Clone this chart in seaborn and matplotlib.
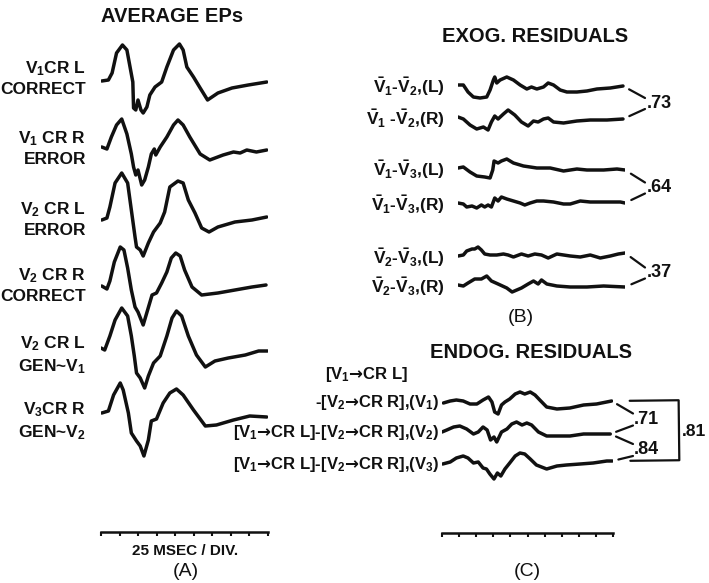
import numpy as np
import pandas as pd
import seaborn as sns
import matplotlib.pyplot as plt

# ---------------- data (time in ms, amplitude in plot units, up = positive) ----------------
# (A) average EPs
a1_t = [1, 10, 15, 21, 29, 35, 40, 43, 44, 47, 50, 54, 57, 62, 66, 73, 82, 89, 98, 106, 111, 116, 125, 134, 144, 158, 177, 199, 224]
a1_v = [0, 1, 8, 28, 36, 31, 11, -1, -27, -29, -19, -29, -32, -26, -14, -6, -1, 14, 31, 37, 31, 14, 4, -7, -19, -12, -7, -4, -1]
a2_t = [1, 8, 14, 21, 28, 35, 41, 44, 47, 50, 55, 59, 64, 68, 72, 74, 80, 89, 98, 104, 111, 120, 134, 147, 165, 179, 188, 197, 210, 224]
a2_v = [0, -2, 10, 22, 28, 13, -7, -20, -28, -23, -38, -33, -20, -7, -2, -8, 0, 10, 22, 27, 22, 10, -7, -13, -8, -5, -6, -3, -5, -3]
a3_t = [1, 8, 12, 19, 28, 36, 41, 46, 48, 53, 57, 64, 71, 80, 86, 93, 104, 111, 118, 127, 136, 146, 158, 181, 204, 224]
a3_v = [0, 2, 13, 37, 47, 37, 10, -17, -27, -30, -36, -23, -12, -3, 8, 33, 39, 37, 20, 7, -8, -12, -7, -2, 0, 3]
a4_t = [1, 8, 12, 18, 26, 31, 36, 41, 46, 50, 57, 63, 69, 75, 82, 89, 95, 101, 107, 113, 123, 136, 158, 181, 204, 223]
a4_v = [0, -3, 5, 24, 39, 36, 18, -4, -21, -26, -39, -24, -9, -7, 3, 14, 28, 33, 30, 16, -1, -9, -7, -4, -1, 1]
a5_t = [0, 5, 12, 19, 28, 36, 41, 45, 48, 53, 59, 64, 71, 80, 89, 96, 102, 109, 118, 129, 141, 154, 172, 195, 213, 225]
a5_v = [0, -2, 12, 28, 40, 32, 12, -8, -25, -30, -40, -28, -15, -8, 12, 30, 37, 32, 12, -7, -19, -13, -10, -7, -3, -3]
a6_t = [1, 10, 17, 26, 30, 37, 41, 48, 53, 58, 64, 68, 75, 84, 93, 102, 111, 125, 141, 156, 179, 201, 224]
a6_v = [0, 2, 18, 30, 23, 0, -20, -28, -33, -43, -27, -8, -6, 10, 20, 24, 18, 3, -13, -12, -7, -3, -4]
a_labels = ["V$_1$CR L\nCORRECT", "V$_1$ CR R\nERROR", "V$_2$ CR L\nERROR",
            "V$_2$ CR R\nCORRECT", "V$_2$ CR L\nGEN~V$_1$", "V$_3$CR R\nGEN~V$_2$"]

# (B) exogenous residuals
b1_t = [0, 8, 15, 23, 33, 43, 48, 53, 55, 58, 63, 73, 83, 93, 103, 110, 118, 128, 135, 143, 153, 163, 178, 193, 208, 228, 247]
b1_v = [0, 0, -7, -12, -13, -12, -5, 5, 8, 2, 5, 8, 5, 0, -4, -2, -4, -2, 2, 0, -5, -7, -7, -6, -4, -3, -1]
b2_t = [0, 8, 18, 28, 38, 45, 50, 55, 60, 68, 75, 85, 95, 105, 113, 120, 128, 135, 143, 158, 178, 198, 223, 247]
b2_v = [0, -2, -8, -12, -10, -13, -5, 1, -2, 3, 7, 2, -5, -9, -4, -5, -2, -1, -5, -6, -4, -3, -3, -2]
b3_t = [0, 8, 18, 28, 40, 48, 52, 54, 60, 65, 73, 83, 98, 118, 138, 158, 178, 193, 218, 238, 250]
b3_v = [0, 1, -4, -8, -9, -10, -2, 7, 5, 7, 9, 5, 2, 0, 0, -3, -1, -2, -2, -1, -2]
b4_t = [0, 8, 13, 21, 28, 35, 40, 45, 50, 55, 60, 65, 73, 83, 93, 100, 108, 118, 128, 143, 158, 168, 183, 198, 218, 243, 250]
b4_v = [0, -1, -4, -3, -5, -2, -4, -2, -4, 5, 2, 6, 4, 2, 0, -2, 0, 2, 2, 1, -1, -1, 2, 1, 1, 1, 0]
b5_t = [0, 8, 13, 21, 25, 30, 35, 40, 48, 58, 68, 75, 83, 95, 105, 115, 125, 135, 148, 158, 168, 183, 198, 213, 228, 240, 250]
b5_v = [0, 1, 5, 7, 7, 9, 6, 2, 1, 1, 2, 1, -1, 2, 0, 2, 1, -2, 2, 1, 0, -1, 1, -2, 0, 2, 3]
b6_t = [0, 8, 15, 25, 35, 43, 50, 60, 73, 81, 95, 105, 113, 120, 125, 133, 148, 168, 193, 218, 250]
b6_v = [0, -1, 2, 6, 6, 9, 4, 1, -3, -7, -3, 1, 4, 1, 5, 1, -1, -2, -2, -1, -2]
b_labels = [r"$\bar{V}_1$-$\bar{V}_2$,(L)", r"$\bar{V}_1$ -$\bar{V}_2$,(R)",
            r"$\bar{V}_1$-$\bar{V}_3$,(L)", r"$\bar{V}_1$-$\bar{V}_3$,(R)",
            r"$\bar{V}_2$-$\bar{V}_3$,(L)", r"$\bar{V}_2$-$\bar{V}_3$,(R)"]
b_corr = [".73", ".64", ".37"]

# (C) endogenous residuals
c1_t = [2, 12, 21, 31, 41, 51, 60, 68, 73, 77, 82, 87, 92, 99, 107, 114, 121, 129, 136, 143, 153, 168, 187, 207, 226, 248]
c1_v = [0, 2, 3, 2, -1, -1, 3, 6, 1, -9, -11, -2, 1, 4, 9, 11, 9, 11, 8, 3, -4, -6, -5, -2, -1, 2]
c2_t = [0, 7, 17, 26, 36, 46, 53, 60, 66, 71, 76, 80, 87, 95, 102, 109, 117, 124, 131, 141, 153, 168, 187, 207, 226, 246]
c2_v = [0, 2, 5, 6, 3, -2, 0, 5, 2, -8, -5, -10, 0, 3, 8, 10, 7, 9, 7, 0, -4, -4, -4, -2, -2, -2]
c3_t = [1, 12, 21, 31, 38, 46, 53, 60, 65, 70, 76, 81, 86, 92, 99, 107, 114, 121, 129, 138, 153, 168, 182, 202, 221, 241, 249]
c3_v = [0, 2, 6, 8, 6, 1, 2, -4, -5, -10, -15, -9, -12, -5, 1, 8, 11, 10, 5, -1, -5, -2, -1, 0, 1, 3, 3]
c_head = "[V$_1\\mathsf{\u2192}$CR L]"
c_labels = ["-[V$_2\\mathsf{\u2192}$CR R],(V$_1$)",
            "[V$_1\\mathsf{\u2192}$CR L]-[V$_2\\mathsf{\u2192}$CR R],(V$_2$)",
            "[V$_1\\mathsf{\u2192}$CR L]-[V$_2\\mathsf{\u2192}$CR R],(V$_3$)"]
c_corr = [".71", ".84"]
c_corr_all = ".81"

# ---------------- layout (pixel rows of the 709 x 583 canvas) ----------------
W, H = 709, 583
a_base = [81, 147, 220, 286, 348, 413]
a_label_y = [78, 148, 219, 285, 355, 421]
b_base = [85, 117, 168, 203, 256, 285]
c_base = [403, 432, 464]

sns.set_style("white")
plt.rcParams["font.family"] = ["Liberation Sans", "DejaVu Sans"]
plt.rcParams["font.weight"] = "bold"
plt.rcParams["mathtext.fontset"] = "custom"
plt.rcParams["mathtext.rm"] = "Liberation Sans:bold"
plt.rcParams["mathtext.it"] = "Liberation Sans:bold"
plt.rcParams["mathtext.bf"] = "Liberation Sans:bold"
plt.rcParams["mathtext.sf"] = "DejaVu Sans:bold"
plt.rcParams["mathtext.default"] = "rm"
INK = "#111111"

fig = plt.figure(figsize=(W / 100, H / 100), dpi=100)


def px_box(left, top, right, bottom):
    return [left / W, 1 - bottom / H, (right - left) / W, (bottom - top) / H]


def traces(times, values, bases):
    parts = [pd.DataFrame({"t": t, "y": b - np.asarray(v, float), "trace": k})
             for k, (t, v, b) in enumerate(zip(times, values, bases))]
    return pd.concat(parts, ignore_index=True)


def draw(ax, df, tmax, top, bottom, scale_bar):
    sns.lineplot(data=df, x="t", y="y", units="trace", estimator=None, sort=False,
                 color=INK, lw=2.5, solid_capstyle="round", solid_joinstyle="round", ax=ax)
    ax.set_xlim(0, tmax)
    ax.set_ylim(bottom, top)
    ax.set_xlabel("")
    ax.set_ylabel("")
    ax.set_facecolor("none")
    ax.set_yticks([])
    for side in ["top", "left", "right"]:
        ax.spines[side].set_visible(False)
    if scale_bar:
        ax.spines["bottom"].set_linewidth(1.8)
        ax.spines["bottom"].set_color(INK)
        ax.set_xticks(np.arange(0, tmax + 1, 25))
        ax.tick_params(axis="x", bottom=True, direction="out", length=3, width=1.5,
                       color=INK, labelbottom=False)
    else:
        ax.axis("off")


ov = fig.add_axes([0, 0, 1, 1])
ov.set_xlim(0, W)
ov.set_ylim(H, 0)
ov.axis("off")

ax_a = fig.add_axes(px_box(101, 0, 267.5, 532))
draw(ax_a, traces([a1_t, a2_t, a3_t, a4_t, a5_t, a6_t], [a1_v, a2_v, a3_v, a4_v, a5_v, a6_v], a_base),
     225, 0, 532, True)

ax_b = fig.add_axes(px_box(458, 60, 625, 300))
b_t = [b1_t, b2_t, b3_t, b4_t, b5_t, b6_t]
b_v = [b1_v, b2_v, b3_v, b4_v, b5_v, b6_v]
draw(ax_b, traces(b_t, b_v, b_base), 250, 60, 300, False)

ax_c = fig.add_axes(px_box(442, 380, 613, 533))
c_t = [c1_t, c2_t, c3_t]
c_v = [c1_v, c2_v, c3_v]
draw(ax_c, traces(c_t, c_v, c_base), 250, 380, 533, True)


def connector(ax, t, v, base, end, gap):
    ax.annotate("", xy=(t[-1], base - v[-1]), xycoords="data", xytext=end, textcoords=ov.transData,
                annotation_clip=False,
                arrowprops=dict(arrowstyle="-", lw=1.6, color=INK, shrinkA=0, shrinkB=gap))


# titles
title_kw = dict(ha="center", va="center", fontsize=14.5, color=INK)
ov.text(172, 17, "AVERAGE EPs", **title_kw)
ov.text(535, 37, "EXOG. RESIDUALS", **title_kw)
ov.text(531, 353, "ENDOG. RESIDUALS", **title_kw)

# panel A labels
for lab, y in zip(a_labels, a_label_y):
    ov.text(86, y, lab, ha="right", va="center", fontsize=12.5, linespacing=1.3,
            multialignment="right", color=INK)
ov.text(185, 551, "25 MSEC / DIV.", ha="center", va="center", fontsize=11, color=INK)

# panel B labels and correlations
for lab, base in zip(b_labels, b_base):
    ov.text(445, base + 2, lab, ha="right", va="center", fontsize=12.5, color=INK)
for k, val in enumerate(b_corr):
    i, j = 2 * k, 2 * k + 1
    mid = (b_base[i] + b_base[j]) / 2 + 2
    connector(ax_b, b_t[i], b_v[i], b_base[i], (645, mid - 5), 5)
    connector(ax_b, b_t[j], b_v[j], b_base[j], (645, mid + 6), 5)
    ov.text(647, mid, val, ha="left", va="center", fontsize=13, color=INK)

# panel C labels and correlations
ov.text(367, 375, c_head, ha="center", va="center", fontsize=12, color=INK)
for lab, base in zip(c_labels, c_base):
    ov.text(439, base, lab, ha="right", va="center", fontsize=12, color=INK)
for k, val in enumerate(c_corr):
    i, j = k, k + 1
    mid = (c_base[i] + c_base[j]) / 2 + 2
    connector(ax_c, c_t[i], c_v[i], c_base[i], (633, mid - 6), 4.5)
    connector(ax_c, c_t[j], c_v[j], c_base[j], (633, mid + 6), 4.5)
    ov.text(634, mid, val, ha="left", va="center", fontsize=13, color=INK)
ax_c.annotate("", xy=(c1_t[-1], c_base[0] - c1_v[-1]), xytext=(c3_t[-1], c_base[2] - c3_v[-1]),
              annotation_clip=False,
              arrowprops=dict(arrowstyle="-", lw=1.6, color=INK, shrinkA=13, shrinkB=13,
                              connectionstyle="bar,armA=67,armB=67,fraction=0"))
ov.text(682, 432, c_corr_all, ha="left", va="center", fontsize=12.5, color=INK)

# panel letters
letter_kw = dict(ha="center", va="center", fontsize=14, fontweight="normal", color=INK)
ov.text(186, 572, "(A)", **letter_kw)
ov.text(521, 317, "(B)", **letter_kw)
ov.text(527, 572, "(C)", **letter_kw)

fig.savefig("out.png", dpi=100)
